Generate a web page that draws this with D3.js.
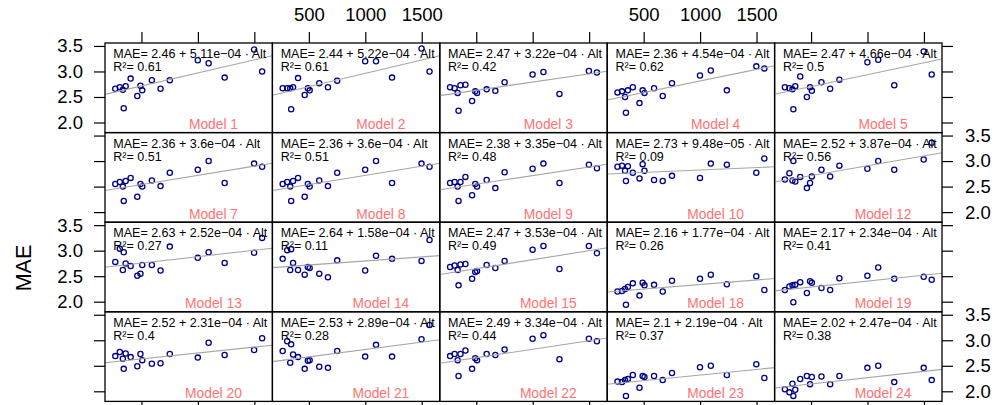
<!DOCTYPE html>
<html>
<head>
<meta charset="utf-8">
<script src="https://cdn.jsdelivr.net/npm/d3@7"></script>
<style>
body { margin: 0; background: #fff; }
svg text { font-family: "Liberation Sans", Arial, Helvetica, sans-serif; }
</style>
</head>
<body>
<div id="chart"></div>
<script>
// station altitude (m), shared by every panel
var altitude = [268, 308, 335, 343, 360, 404, 463, 491, 507, 592, 669, 751, 999, 1095, 1237, 1498, 1569];

// MAE per station, one array per model (same order as altitude)
var m1  = [2.66, 2.69, 2.64, 2.28, 2.71, 2.86, 2.52, 2.72, 2.63, 2.83, 2.66, 2.83, 3.22, 3.16, 2.88, 3.43, 3.00];
var m2  = [2.67, 2.67, 2.67, 2.26, 2.69, 2.87, 2.54, 2.67, 2.63, 2.77, 2.69, 2.82, 3.20, 3.20, 2.88, 3.45, 3.00];
var m3  = [2.69, 2.67, 2.58, 2.23, 2.73, 2.74, 2.42, 2.61, 2.58, 2.65, 2.62, 2.79, 2.94, 2.99, 2.56, 3.01, 2.98];
var m4  = [2.59, 2.61, 2.50, 2.19, 2.63, 2.69, 2.38, 2.63, 2.58, 2.67, 2.52, 2.77, 2.92, 3.02, 2.63, 3.10, 3.06];
var m5  = [2.69, 2.67, 2.65, 2.26, 2.71, 2.90, 2.50, 2.69, 2.62, 2.79, 2.66, 2.84, 3.18, 3.23, 2.73, 3.39, 2.94];
var m7  = [2.55, 2.59, 2.50, 2.22, 2.61, 2.67, 2.30, 2.55, 2.50, 2.62, 2.51, 2.77, 2.83, 3.00, 2.57, 2.95, 2.89];
var m8  = [2.55, 2.59, 2.50, 2.22, 2.61, 2.67, 2.30, 2.55, 2.50, 2.62, 2.51, 2.77, 2.83, 3.00, 2.57, 2.95, 2.89];
var m9  = [2.57, 2.59, 2.50, 2.22, 2.59, 2.69, 2.33, 2.55, 2.50, 2.63, 2.47, 2.78, 2.85, 2.95, 2.57, 2.93, 2.86];
var m10 = [2.89, 2.91, 2.81, 2.61, 2.90, 2.77, 2.66, 2.94, 2.81, 2.63, 2.61, 2.71, 2.67, 2.95, 2.93, 2.77, 3.05];
var m12 = [2.64, 2.76, 2.62, 3.00, 2.60, 2.69, 2.47, 2.57, 2.70, 2.83, 2.70, 2.91, 2.85, 3.00, 2.83, 3.03, 3.36];
var m13 = [2.78, 3.04, 2.62, 2.97, 2.75, 2.70, 2.51, 2.55, 2.72, 2.72, 2.61, 3.08, 2.86, 2.97, 2.76, 2.96, 3.25];
var m14 = [2.84, 3.01, 2.62, 3.03, 2.76, 2.62, 2.53, 2.68, 2.66, 2.55, 2.48, 2.81, 2.61, 2.90, 2.84, 2.80, 3.21];
var m15 = [2.68, 2.71, 2.62, 2.32, 2.73, 2.74, 2.45, 2.58, 2.60, 2.72, 2.66, 2.80, 3.02, 3.09, 2.64, 3.09, 2.95];
var m18 = [2.20, 2.21, 2.25, 1.94, 2.29, 2.36, 2.12, 2.37, 2.32, 2.33, 2.20, 2.41, 2.45, 2.53, 2.34, 2.50, 2.23];
var m19 = [2.23, 2.30, 2.32, 1.99, 2.33, 2.38, 2.17, 2.40, 2.37, 2.27, 2.23, 2.46, 2.51, 2.67, 2.45, 2.49, 2.43];
var m20 = [2.69, 2.77, 2.64, 2.44, 2.74, 2.67, 2.49, 2.73, 2.61, 2.54, 2.55, 2.73, 2.66, 2.95, 2.71, 2.81, 3.04];
var m21 = [2.79, 2.98, 2.56, 2.92, 2.72, 2.67, 2.44, 2.60, 2.61, 2.48, 2.46, 2.79, 2.68, 2.91, 2.68, 3.02, 3.30];
var m22 = [2.69, 2.73, 2.61, 2.30, 2.73, 2.80, 2.44, 2.65, 2.61, 2.73, 2.71, 2.82, 3.03, 3.10, 2.63, 3.03, 2.98];
var m23 = [2.19, 2.18, 2.22, 1.91, 2.24, 2.32, 2.07, 2.30, 2.28, 2.30, 2.22, 2.36, 2.47, 2.50, 2.32, 2.53, 2.26];
var m24 = [2.04, 1.98, 2.15, 1.91, 2.03, 2.24, 2.30, 2.14, 2.28, 2.29, 2.14, 2.30, 2.46, 2.50, 2.18, 2.46, 2.22];

var models = ["Model 1", "Model 2", "Model 3", "Model 4", "Model 5",
              "Model 7", "Model 8", "Model 9", "Model 10", "Model 12",
              "Model 13", "Model 14", "Model 15", "Model 18", "Model 19",
              "Model 20", "Model 21", "Model 22", "Model 23", "Model 24"];
var maeSeries = [m1, m2, m3, m4, m5, m7, m8, m9, m10, m12, m13, m14, m15, m18, m19, m20, m21, m22, m23, m24];

// fitted lm(MAE ~ Alt) per model
var intercepts = [2.46, 2.44, 2.47, 2.36, 2.47, 2.36, 2.36, 2.38, 2.73, 2.52,
                  2.63, 2.64, 2.47, 2.16, 2.17, 2.52, 2.53, 2.49, 2.1, 2.02];
var slopes = [5.11e-4, 5.22e-4, 3.22e-4, 4.54e-4, 4.66e-4, 3.6e-4, 3.6e-4, 3.35e-4, 9.48e-5, 3.87e-4,
              2.52e-4, 1.58e-4, 3.53e-4, 1.77e-4, 2.34e-4, 2.31e-4, 2.89e-4, 3.34e-4, 2.19e-4, 2.47e-4];
var rSquared = [0.61, 0.61, 0.42, 0.62, 0.5, 0.51, 0.51, 0.48, 0.09, 0.56,
                0.27, 0.11, 0.49, 0.26, 0.41, 0.4, 0.28, 0.44, 0.37, 0.38];

var xTicks = [500, 1000, 1500];
var yTicks = [2.0, 2.5, 3.0, 3.5];

var width = 995, height = 405;
var marginLeft = 105, marginTop = 43;
var nCol = 5, nRow = 4;
var pw = 167.4, ph = 89.6;
var tickLen = 11;
var axisFont = "18.5px";

var svg = d3.select("#chart").append("svg")
  .attr("width", width)
  .attr("height", height);

// lattice style padding of 7% on each side
function padded(ext) {
  var d = (ext[1] - ext[0]) * 0.07;
  return [ext[0] - d, ext[1] + d];
}
var allMae = d3.merge(maeSeries);
var x = d3.scaleLinear().domain(padded(d3.extent(altitude))).range([0, pw]);
var y = d3.scaleLinear().domain(padded(d3.extent(allMae))).range([ph, 0]);

function fmtNum(v) { return String(+v.toFixed(2)); }
function fmtSlope(b) {
  var e = Math.floor(Math.log10(Math.abs(b)));
  var m = +(b / Math.pow(10, e)).toFixed(2);
  return m + "e\u2212" + String(-e).padStart(2, "0");
}

svg.append("defs").append("clipPath").attr("id", "panelClip")
  .append("rect").attr("width", pw).attr("height", ph);

models.forEach(function(name, i) {
  var col = i % nCol, row = Math.floor(i / nCol);
  var g = svg.append("g")
    .attr("transform", "translate(" + (marginLeft + col * pw) + "," + (marginTop + row * ph) + ")");

  var inner = g.append("g").attr("clip-path", "url(#panelClip)");

  var pts = altitude.map(function(a, k) { return [a, maeSeries[i][k]]; });
  inner.selectAll("circle")
    .data(pts)
    .enter()
    .append("circle")
    .attr("cx", function(d) { return x(d[0]); })
    .attr("cy", function(d) { return y(d[1]); })
    .attr("r", 2.6)
    .attr("fill", "none")
    .attr("stroke", "#00008b")
    .attr("stroke-width", 1.3);

  var xd = x.domain();
  inner.append("line")
    .attr("x1", x(xd[0]))
    .attr("y1", y(intercepts[i] + slopes[i] * xd[0]))
    .attr("x2", x(xd[1]))
    .attr("y2", y(intercepts[i] + slopes[i] * xd[1]))
    .attr("stroke", "#a6a6a6")
    .attr("stroke-width", 1.1);

  g.append("text")
    .attr("x", 8.3)
    .attr("y", 15.3)
    .style("font-size", "12.5px")
    .text("MAE= " + fmtNum(intercepts[i]) + " + " + fmtSlope(slopes[i]) + " \u00B7 Alt");
  g.append("text")
    .attr("x", 8.3)
    .attr("y", 28)
    .style("font-size", "12.5px")
    .text("R\u00B2= " + fmtNum(rSquared[i]));

  g.append("text")
    .attr("x", pw * 0.648)
    .attr("y", ph - 3.3)
    .attr("text-anchor", "middle")
    .style("font-size", "13.8px")
    .attr("fill", "#ff7373")
    .text(name);

  // axes: ticks everywhere, labels alternate like lattice
  function styleAxis(sel) {
    sel.select(".domain").remove();
    sel.selectAll(".tick line").attr("stroke", "#000").attr("stroke-width", 1.2);
    sel.selectAll(".tick text").style("font-size", axisFont).attr("fill", "#000");
  }
  if (row === 0) {
    g.append("g")
      .call(d3.axisTop(x).tickValues(xTicks).tickSize(tickLen).tickPadding(11)
        .tickFormat(col % 2 === 1 ? d3.format("d") : ""))
      .call(styleAxis);
  }
  if (row === nRow - 1) {
    // bottom labels fall outside the picture, so only the ticks are drawn
    g.append("g")
      .attr("transform", "translate(0," + ph + ")")
      .call(d3.axisBottom(x).tickValues(xTicks).tickSize(tickLen).tickFormat(""))
      .call(styleAxis);
  }
  if (col === 0) {
    g.append("g")
      .call(d3.axisLeft(y).tickValues(yTicks).tickSize(tickLen).tickPadding(11)
        .tickFormat(row % 2 === 0 ? d3.format(".1f") : ""))
      .call(styleAxis);
  }
  if (col === nCol - 1) {
    g.append("g")
      .attr("transform", "translate(" + pw + ",0)")
      .call(d3.axisRight(y).tickValues(yTicks).tickSize(tickLen).tickPadding(12)
        .tickFormat(row % 2 === 1 ? d3.format(".1f") : ""))
      .call(styleAxis);
  }

  g.append("rect")
    .attr("width", pw)
    .attr("height", ph)
    .attr("fill", "none")
    .attr("stroke", "#000")
    .attr("stroke-width", 1.3);
});

svg.append("text")
  .attr("transform", "translate(31,268) rotate(-90)")
  .attr("text-anchor", "middle")
  .style("font-size", "21.5px")
  .text("MAE");
</script>
</body>
</html>
